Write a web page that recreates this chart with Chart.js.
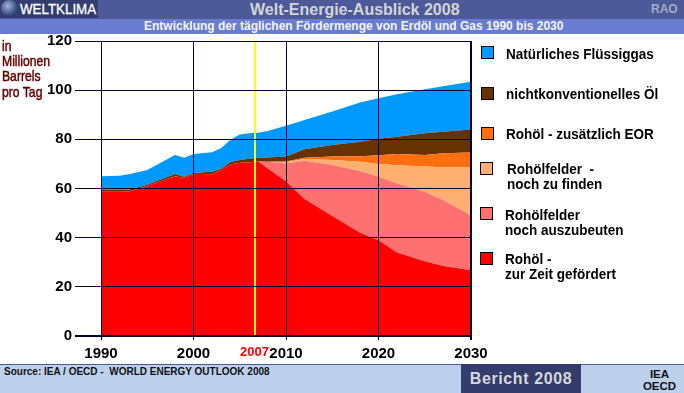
<!DOCTYPE html>
<html lang="de">

<head>
    <meta charset="UTF-8">
    <title>Welt-Energie-Ausblick 2008</title>
    <script src="https://cdn.jsdelivr.net/npm/chart.js"></script>
    <style>
        html, body { margin: 0; padding: 0; background: #fff; }
        body { position: relative; width: 684px; height: 393px; overflow: hidden; font-family: "Liberation Sans", Arial, sans-serif; font-weight: bold; }
        #growth { position: absolute; left: 0; top: 0; }
        .abs { position: absolute; white-space: pre; }
        #topbar { left: 0; top: 0; width: 684px; height: 19px; background: #4c5a9a; }
        #subbar { left: 0; top: 19px; width: 684px; height: 15px; background: #697cd0; }
        #logo { left: 0; top: 0; width: 98px; height: 18px; background: #333d6e; }
        #globe { left: 1px; top: 0; width: 17px; height: 17px; border-radius: 50%; background: radial-gradient(circle at 40% 35%, #9fb4d8, #3f5488 55%, #141c3c); }
        #logotext { left: 20px; top: 1px; font-size: 14.5px; line-height: 17px; color: #fff; font-weight: normal; -webkit-text-stroke: 0.3px #fff; transform: scaleX(0.92); transform-origin: left top; }
        #title { left: 250px; top: 0; font-size: 16px; line-height: 19px; color: #d4d4d4; }
        #rao { left: 651px; top: 1px; font-size: 12px; line-height: 17px; color: #a4acc8; }
        #subtitle { left: 144px; top: 19px; font-size: 12px; line-height: 15px; color: #f4f4f4; }
        #unit { left: 2px; top: 39px; font-size: 14.5px; line-height: 15.2px; color: #660000; font-weight: normal; -webkit-text-stroke: 0.5px #660000; transform: scaleX(0.84); transform-origin: left top; }
        .sw { position: absolute; left: 481px; width: 11px; height: 11px; border: 1px solid #000; }
        .lg { position: absolute; white-space: pre; font-size: 15px; line-height: 15px; color: #000; transform: scaleX(0.9); transform-origin: left top; }
        #footer { left: 0; top: 364px; width: 684px; height: 29px; background: #bcd0ec; border-top: 1px solid #4c5a9a; box-sizing: border-box; }
        #source { left: 4px; top: 366px; font-size: 10px; line-height: 12px; color: #111; }
        #report { left: 461px; top: 364px; width: 120px; height: 29px; background: #333c6c; color: #d8d8d8; font-size: 16px; line-height: 29px; text-align: center; letter-spacing: 0.6px; }
        #iea { left: 642px; top: 368px; width: 35px; font-size: 11.5px; line-height: 12px; color: #111; text-align: center; }
    </style>
</head>

<body>
    <div class="abs" id="topbar"></div>
    <div class="abs" id="subbar"></div>
    <div class="abs" id="logo"></div>
    <div class="abs" id="globe"></div>
    <div class="abs" id="logotext">WELTKLIMA</div>
    <div class="abs" id="title">Welt-Energie-Ausblick 2008</div>
    <div class="abs" id="rao">RAO</div>
    <div class="abs" id="subtitle">Entwicklung der täglichen Fördermenge von Erdöl und Gas 1990 bis 2030</div>

    <canvas id="growth" width="684" height="393"></canvas>

    <div class="abs" id="unit">in
Millionen
Barrels
pro Tag</div>

    <div class="sw" style="top:46px;background:#0099ff"></div>
    <div class="lg" style="left:506px;top:46px">Natürliches Flüssiggas</div>
    <div class="sw" style="top:87px;background:#663300"></div>
    <div class="lg" style="left:506px;top:86px">nichtkonventionelles Öl</div>
    <div class="sw" style="top:127px;background:#ff6f0f"></div>
    <div class="lg" style="left:506px;top:126px">Rohöl - zusätzlich EOR</div>
    <div class="sw" style="top:162px;left:480px;background:#ffb070"></div>
    <div class="lg" style="left:507px;top:161px">Rohölfelder  -
noch zu finden</div>
    <div class="sw" style="top:207px;left:480px;background:#ff7070"></div>
    <div class="lg" style="left:505px;top:207px">Rohölfelder
noch auszubeuten</div>
    <div class="sw" style="top:252px;left:480px;background:#ff0000"></div>
    <div class="lg" style="left:505px;top:251px">Rohöl -
zur Zeit gefördert</div>

    <div class="abs" id="footer"></div>
    <div class="abs" id="source">Source: IEA / OECD -  WORLD ENERGY OUTLOOK 2008</div>
    <div class="abs" id="report">Bericht 2008</div>
    <div class="abs" id="iea">IEA
OECD</div>

    <script>
        // values, million barrels per day
        const years = [1990, 1992, 1993, 1995, 1998, 1999, 2000, 2002, 2003, 2004, 2005, 2006, 2007, 2008, 2010, 2012, 2015, 2018, 2020, 2022, 2025, 2027, 2030];
        const currentFields = [58.7, 58.7, 58.8, 61, 65, 64.3, 66, 65.8, 67.5, 69.8, 70.5, 70.7, 71, 68.2, 62.8, 55.7, 48.8, 42, 39, 34, 30.4, 28.5, 26.7];
        const undeveloped = [0, 0, 0, 0, 0, 0, 0, 0, 0, 0, 0, 0, 0, 2.7, 7.4, 15.6, 20.8, 25.1, 25.8, 28, 28.3, 26.8, 22.3];
        const undiscovered = [0, 0, 0, 0, 0, 0, 0, 0, 0, 0, 0, 0, 0, 0, 0.5, 0.7, 2, 3.8, 5.2, 7.5, 10.2, 13.3, 19.7];
        const eor = [0, 0, 0, 0, 0, 0, 0, 0, 0, 0, 0, 0, 0, 0, 0.3, 0.5, 1.4, 2.2, 3.5, 4.5, 4.7, 5.7, 5.9];
        const unconventional = [0.8, 0.8, 0.7, 0.5, 0.9, 0.5, 0.3, 1, 0.5, 1, 1.1, 1.4, 1.5, 1.7, 2, 3.5, 4.7, 5.9, 6.7, 7.1, 8.9, 8.8, 9.4];
        const ngl = [5.5, 5.7, 6.3, 6, 7.7, 7.7, 7.7, 7.9, 8.5, 9, 10.4, 10.4, 10.2, 10.8, 12.5, 11.9, 13.6, 16, 16.5, 17.2, 17.9, 18.5, 19.4];

        const yearTicks = [1990, 2000, 2010, 2020, 2030];
        const markerYear = 2006.6; // the yellow line sits a bit left of a true 2007 in the picture
        const markerLabel = "2007";

        const navy = "#000033";

        function isMarker(ctx) {
            return !!ctx.tick && ctx.tick.value === markerYear;
        }

        function series(label, values, color, fill) {
            return {
                label: label,
                data: values.map((v, i) => ({ x: years[i], y: v })),
                backgroundColor: color,
                borderWidth: 0,
                pointRadius: 0,
                tension: 0,
                fill: fill
            };
        }

        new Chart(document.getElementById("growth"), {
            type: "line",
            data: {
                datasets: [
                    series("Rohöl - zur Zeit gefördert", currentFields, "#ff0000", "origin"),
                    series("Rohölfelder noch auszubeuten", undeveloped, "#ff7070", "-1"),
                    series("Rohölfelder - noch zu finden", undiscovered, "#ffb070", "-1"),
                    series("Rohöl - zusätzlich EOR", eor, "#ff6f0f", "-1"),
                    series("nichtkonventionelles Öl", unconventional, "#663300", "-1"),
                    series("Natürliches Flüssiggas", ngl, "#0099ff", "-1")
                ]
            },
            options: {
                responsive: false,
                animation: false,
                layout: { padding: { top: 41, right: 213, bottom: 27, left: 0 } },
                plugins: { legend: { display: false }, tooltip: { enabled: false } },
                scales: {
                    x: {
                        type: "linear",
                        min: 1990,
                        max: 2030,
                        border: { display: false },
                        afterBuildTicks: scale => {
                            scale.ticks = yearTicks.concat(markerYear).sort((a, b) => a - b).map(v => ({ value: v }));
                        },
                        afterFit: scale => { scale.height = 30; },
                        grid: {
                            z: 1,
                            tickLength: 4,
                            color: ctx => isMarker(ctx) ? "#ffff00" : navy,
                            tickColor: ctx => isMarker(ctx) ? "rgba(0,0,0,0)" : navy,
                            lineWidth: ctx => isMarker(ctx) || (ctx.tick && ctx.tick.value === 2030) ? 2 : 1
                        },
                        ticks: {
                            autoSkip: false,
                            maxRotation: 0,
                            padding: 5,
                            color: ctx => isMarker(ctx) ? "#ff0000" : "#000",
                            font: ctx => ({ family: "Liberation Sans", weight: "bold", size: isMarker(ctx) ? 13 : 15 }),
                            callback: v => v === markerYear ? markerLabel : String(v)
                        }
                    },
                    y: {
                        stacked: true,
                        min: 0,
                        max: 120,
                        border: { display: false },
                        afterFit: scale => { scale.width = 101; },
                        grid: {
                            z: 1,
                            tickLength: 26,
                            color: navy,
                            lineWidth: ctx => ctx.tick && ctx.tick.value === 0 ? 2 : 1
                        },
                        ticks: {
                            stepSize: 20,
                            padding: 3,
                            color: "#000",
                            font: { family: "Liberation Sans", weight: "bold", size: 15 }
                        }
                    }
                }
            }
        });
    </script>
</body>
</html>
